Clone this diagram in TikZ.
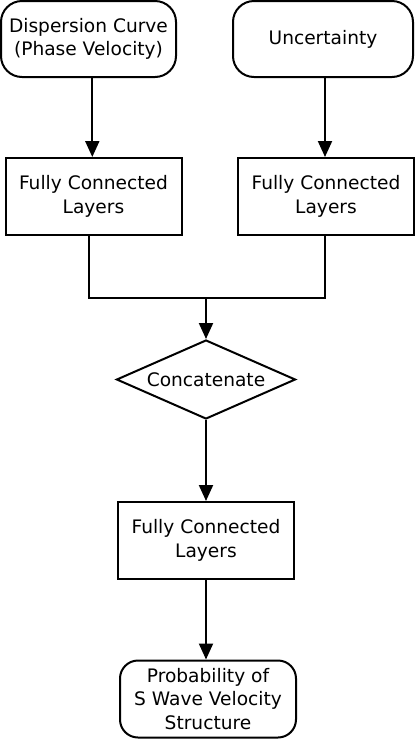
\documentclass[tikz,border=0pt]{standalone}
\usepackage{fontspec}
\setmainfont{DejaVu Sans}
\usetikzlibrary{arrows.meta,shapes.geometric}
\begin{document}
\begin{tikzpicture}[x=1pt,y=-1pt,
  every node/.style={font=\fontsize{18.6}{23.5}\selectfont, align=center, inner sep=0pt, line width=2pt},
  roundbox/.style={draw, rectangle, rounded corners=21pt, minimum width=175pt, minimum height=76pt},
  layerbox/.style={draw, rectangle, minimum width=176pt, minimum height=77pt},
  decision/.style={draw, diamond, aspect=2.27, minimum width=179pt, minimum height=79pt},
  conn/.style={line width=2pt},
  arrowline/.style={line width=2pt, -{Triangle[length=16pt,width=14pt]}}]
\useasboundingbox (0,0) rectangle (415,740);
\node[roundbox] (disp) at (88.5,39) {Dispersion Curve\\(Phase Velocity)};
\node[roundbox, minimum width=180pt] (unc) at (323,39) {Uncertainty};
\node[layerbox] (fcl1) at (93.5,196.5) {Fully Connected\\Layers};
\node[layerbox] (fcl2) at (326,196.5) {Fully Connected\\Layers};
\coordinate (j) at (206,298);
\node[decision] (cc) at (206,379.5) {Concatenate};
\node[layerbox] (fcl3) at (206,540.5) {Fully Connected\\Layers};
\node[roundbox, rounded corners=18pt, minimum width=176pt, minimum height=77pt] (prob) at (208,699) {Probability of\\S Wave Velocity\\Structure};
\draw[arrowline] ([xshift=3.8pt]disp.south) -- ([xshift=-1.2pt]fcl1.north);
\draw[arrowline] ([xshift=2pt]unc.south) -- ([xshift=-1pt]fcl2.north);
\draw[conn] ([xshift=-4.5pt]fcl1.south) |- (j);
\draw[conn] ([xshift=-1pt]fcl2.south) |- (j);
\draw[arrowline] (j) -- (cc.north);
\draw[arrowline] (cc.south) -- (fcl3.north);
\draw[arrowline] (fcl3.south) -- (fcl3.south |- prob.north);
\end{tikzpicture}
\end{document}
